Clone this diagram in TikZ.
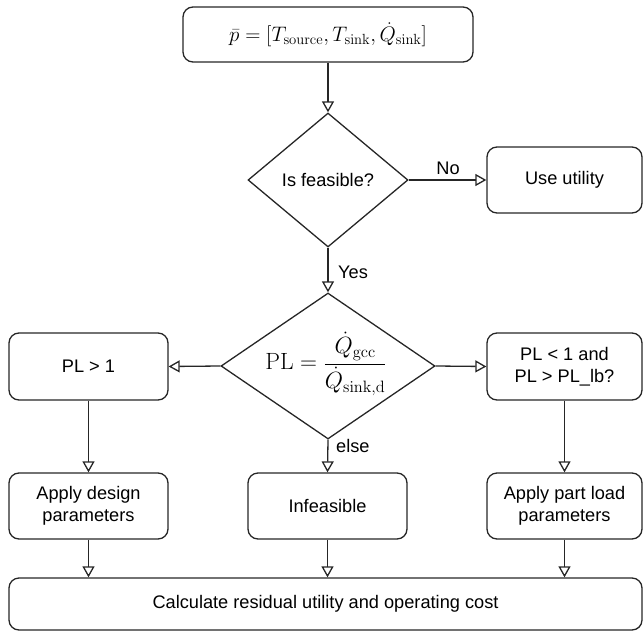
\RequirePackage{fix-cm}
\documentclass[tikz,border=0pt]{standalone}
\usepackage{amsmath}
\usepackage[no-math]{fontspec}
\setmainfont{Liberation Sans}
\usetikzlibrary{shapes.geometric,arrows.meta}
\tikzset{
  box/.style={draw=black!85, line width=1.3pt, rounded corners=10pt, inner sep=0pt, align=center, font=\fontsize{18.2}{21.5}\selectfont},
  dia/.style={draw=black!85, line width=1.3pt, diamond, inner sep=0pt},
  conn/.style={draw=black!85, line width=1.3pt, -{Triangle[open,length=11pt,width=12pt,line width=1.3pt]}},
  lbl/.style={font=\fontsize{18.2}{21.5}\selectfont, inner sep=0pt},
  mathtxt/.style={font=\fontsize{23.5}{28}\selectfont, inner sep=0pt}
}
\begin{document}
\begin{tikzpicture}[x=1pt,y=-1pt]
\useasboundingbox (0,0) rectangle (644,631);
\node[box, minimum width=290pt, minimum height=55pt, font=\fontsize{21}{25}\selectfont] (top) at (328,34.5)
  {$\bar{p} = [T_{\mathrm{source}}, T_{\mathrm{sink}}, \dot{Q}_{\mathrm{sink}}]$};
\node[dia, minimum width=160pt, minimum height=134pt] (d1) at (328,180) {};
\node[lbl] (d1t) at (d1.center) {Is feasible?};
\node[box, minimum width=155pt, minimum height=66pt] (use) at (564.5,180) {Use utility};
\node[dia, minimum width=214pt, minimum height=146pt] (d2) at (328,366) {};
\node[mathtxt] (d2t) at (326,364) {$\displaystyle \mathrm{PL} = \frac{\dot{Q}_{\mathrm{gcc}}}{\dot{Q}_{\mathrm{sink,d}}}$};
\node[box, minimum width=159pt, minimum height=67pt] (pl1) at (88.5,366.5) {PL > 1};
\node[box, minimum width=155pt, minimum height=67pt] (plb) at (564.5,366.5) {PL < 1 and\\ PL > PL\_lb?};
\node[box, minimum width=159pt, minimum height=66pt] (ad) at (88.5,506) {Apply design\\parameters};
\node[box, minimum width=159pt, minimum height=66pt] (inf) at (327.5,506) {Infeasible};
\node[box, minimum width=155pt, minimum height=66pt] (apl) at (564.5,506) {Apply part load\\parameters};
\node[box, minimum width=633pt, minimum height=52pt] (bot) at (325.5,604) {Calculate residual utility and operating cost};

\draw[conn] (top.south) -- (d1.north);
\draw[conn] (d1.east) -- (use.west);
\node[lbl] (no) at (448,168) {No};
\draw[conn] (d1.south) -- (d2.north);
\node[lbl, anchor=west] (yes) at (338,272) {Yes};
\draw[conn] (d2.west) -- (pl1.east);
\draw[conn] (d2.east) -- (plb.west);
\draw[conn] (d2.south) -- (inf.north);
\node[lbl, anchor=west] (else) at (336,446) {else};
\draw[conn] (pl1.south) -- (ad.north);
\draw[conn] (plb.south) -- (apl.north);
\draw[conn] (ad.south) -- (ad.south |- bot.north);
\draw[conn] (inf.south) -- (inf.south |- bot.north);
\draw[conn] (apl.south) -- (apl.south |- bot.north);
\end{tikzpicture}
\end{document}
